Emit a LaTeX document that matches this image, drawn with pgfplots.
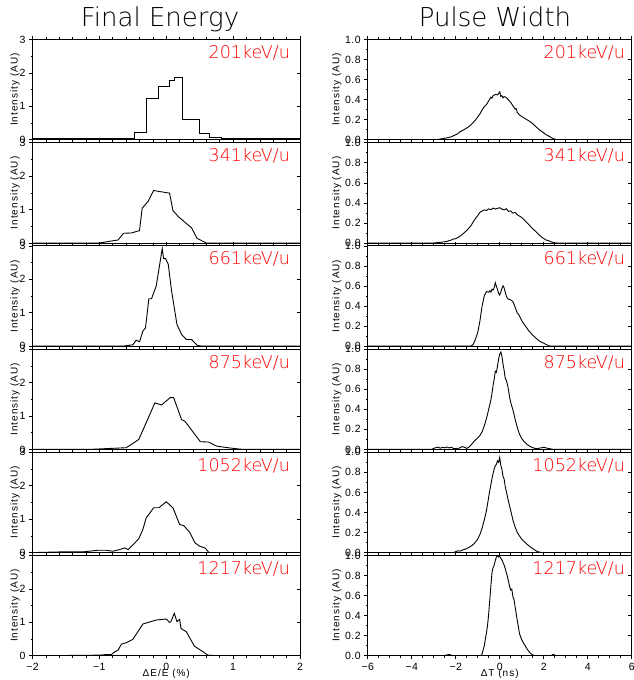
\documentclass[border=0pt]{standalone}
\usepackage{fontspec}
\setmainfont{Liberation Sans}
\newfontfamily\titlefont{DejaVu Sans ExtraLight}
\newfontfamily\numfont[LetterSpace=4]{Liberation Sans}
\newfontfamily\labfont[LetterSpace=10]{Liberation Sans}
\usepackage{pgfplots}
\pgfplotsset{compat=1.18}

\newcommand{\tickfont}{\numfont\fontsize{10.5}{12}\selectfont}
\newcommand{\axlabfont}{\labfont\fontsize{10}{12}\selectfont}
\newcommand{\energyfont}{\titlefont\fontsize{17.5}{19}\selectfont}

\tikzset{
  data/.style={black, line width=0.9pt},
  tag/.style={anchor=north east, text=red, font=\energyfont, inner sep=0pt},
}
\pgfplotsset{
  panel/.style={
    scale only axis, anchor=south west, height=100.3pt,
    axis line style={line width=0.8pt},
    every tick/.style={black, line width=0.6pt},
    tick align=outside, major tick length=3.5pt, minor tick length=2pt,
    xtick pos=both, ytick pos=left,
    xticklabels={}, tick label style={font=\tickfont},
    ylabel={Intensity (AU)}, ylabel style={font=\axlabfont},
  },
  energy/.style={panel, width=267.5pt,
    xmin=-2, xmax=2, ymin=0, ymax=3,
    xtick={-2,-1,0,1,2}, minor x tick num=4,
    ytick={0,1,2,3}, minor y tick num=1, yticklabels={0,1,2,3},
    ylabel style={at={(axis description cs:-0.0654,0.5)}, anchor=center},
  },
  pulse/.style={panel, width=264pt,
    xmin=-6, xmax=6, ymin=0, ymax=1,
    xtick={-6,-4,-2,0,2,4,6}, minor x tick num=3,
    ytick={0,0.2,0.4,0.6,0.8,1}, minor y tick num=1,
    yticklabels={0.0,0.2,0.4,0.6,0.8,1.0},
    ylabel style={at={(axis description cs:-0.1174,0.5)}, anchor=center},
  },
  % inward ticks on the right-hand frame
  rtick/.style={scale only axis, anchor=south west, height=100.3pt,
    hide x axis, axis y line*=right, axis line style={line width=0.8pt},
    every tick/.style={black, line width=0.6pt},
    tick align=inside, major tick length=3.5pt, yticklabels={}},
}
\newcommand{\erticks}[1]{\begin{axis}[rtick, width=267.5pt, xmin=-2, xmax=2, ymin=0, ymax=3, ytick={1,2}, at={#1}]\end{axis}}
\newcommand{\prticks}[1]{\begin{axis}[rtick, width=264pt, xmin=-6, xmax=6, ymin=0, ymax=1, ytick={0.2,0.4,0.6,0.8}, at={#1}]\end{axis}}

\begin{document}
\begin{tikzpicture}
\path[use as bounding box] (0,0) rectangle (634pt,680pt);

\node[font=\titlefont\fontsize{26}{28}\selectfont, anchor=base] at (160pt,653.3pt) {Final Energy};
\node[font=\titlefont\fontsize{26}{28}\selectfont, anchor=base] at (495pt,653.3pt) {Pulse Width};

% ---------------- Final energy spread ----------------
\begin{axis}[energy, at={(32.5pt,540.2pt)}]
\addplot[data, const plot] coordinates {
(-2.0,0.03) (-0.65,0.05) (-0.47,0.22) (-0.30,1.25) (-0.12,1.60) (0.05,1.78)
(0.13,1.87) (0.24,0.60) (0.49,0.20) (0.65,0.08) (0.83,0.04) (1.70,0.05) (1.95,0.04) (2.0,0.04)};
\node[tag] at (rel axis cs:0.963,0.945) {201keV/u};
\end{axis}
\erticks{(32.5pt,540.2pt)}

\begin{axis}[energy, at={(32.5pt,437.0pt)}]
\addplot[data] coordinates {
(-2.0,0) (-1.0,0) (-0.85,0.05) (-0.72,0.09) (-0.64,0.29) (-0.52,0.30) (-0.40,0.37)
(-0.36,1.04) (-0.27,1.25) (-0.19,1.57) (0.05,1.49) (0.10,0.97) (0.18,0.79)
(0.25,0.67) (0.38,0.45) (0.46,0.14) (0.55,0.05) (0.60,0) (2.0,0)};
\node[tag] at (rel axis cs:0.963,0.945) {341keV/u};
\end{axis}
\erticks{(32.5pt,437.0pt)}

\begin{axis}[energy, at={(32.5pt,333.8pt)}]
\addplot[data] coordinates {
(-2.0,0) (-0.65,0) (-0.55,0.03) (-0.50,0.04) (-0.45,0.18) (-0.40,0.13) (-0.35,0.45)
(-0.31,0.55) (-0.26,1.42) (-0.22,1.42) (-0.15,1.80) (-0.06,2.92) (-0.04,2.62)
(-0.01,2.62) (0.03,2.45) (0.08,1.65) (0.16,0.65) (0.23,0.35) (0.30,0.20)
(0.38,0.20) (0.46,0.03) (0.53,0) (2.0,0)};
\node[tag] at (rel axis cs:0.963,0.945) {661keV/u};
\end{axis}
\erticks{(32.5pt,333.8pt)}

\begin{axis}[energy, at={(32.5pt,230.6pt)}]
\addplot[data] coordinates {
(-2.0,0) (-1.15,0) (-0.60,0.05) (-0.52,0.15) (-0.41,0.30) (-0.17,1.39) (-0.07,1.33)
(0.06,1.55) (0.11,1.55) (0.23,0.89) (0.28,0.84) (0.51,0.23) (0.63,0.22)
(0.75,0.10) (0.85,0.07) (1.00,0.03) (1.15,0) (2.0,0)};
\node[tag] at (rel axis cs:0.963,0.945) {875keV/u};
\end{axis}
\erticks{(32.5pt,230.6pt)}

\begin{axis}[energy, at={(32.5pt,127.4pt)}]
\addplot[data] coordinates {
(-2.0,0) (-1.6,0.02) (-1.25,0.02) (-1.02,0.07) (-0.90,0.07) (-0.80,0.04) (-0.70,0.09)
(-0.62,0.14) (-0.57,0.09) (-0.47,0.29) (-0.41,0.42) (-0.35,0.69) (-0.30,1.04)
(-0.26,1.14) (-0.19,1.34) (-0.11,1.34) (0.00,1.52) (0.10,1.34) (0.20,0.84)
(0.26,0.81) (0.35,0.61) (0.43,0.29) (0.50,0.19) (0.58,0.14) (0.64,0) (2.0,0)};
\node[tag] at (rel axis cs:0.963,0.945) {1052keV/u};
\end{axis}
\erticks{(32.5pt,127.4pt)}

\begin{axis}[energy, at={(32.5pt,24.2pt)},
  xticklabels={−2,−1,0,1,2},
  xlabel={ΔE/E (\%)},
  xlabel style={font=\axlabfont, at={(axis description cs:0.5,-0.177)}, anchor=center}]
\addplot[data] coordinates {
(-2.0,0) (-1.49,0.01) (-0.99,0.02) (-0.89,0.04) (-0.82,0.04) (-0.77,0.12)
(-0.72,0.17) (-0.67,0.35) (-0.60,0.39) (-0.50,0.49) (-0.35,0.95) (-0.30,0.98)
(-0.15,1.07) (0.00,1.10) (0.05,1.00) (0.07,1.02) (0.12,1.27) (0.16,1.02)
(0.20,1.09) (0.22,0.82) (0.30,0.72) (0.42,0.29) (0.55,0.12) (0.62,0.02)
(0.79,0) (2.0,0)};
\node[tag] at (rel axis cs:0.963,0.945) {1217keV/u};
\end{axis}
\erticks{(32.5pt,24.2pt)}

% ---------------- Bunch length ----------------
\begin{axis}[pulse, at={(367.7pt,540.2pt)}]
\addplot[data] coordinates {
(-6,0) (-3.0,0.000) (-2.9,0.002) (-2.8,0.004) (-2.7,0.008) (-2.6,0.012) (-2.5,0.015)
(-2.4,0.019) (-2.3,0.024) (-2.2,0.030) (-2.1,0.041) (-2.0,0.050) (-1.9,0.062)
(-1.8,0.080) (-1.7,0.092) (-1.6,0.104) (-1.5,0.118) (-1.4,0.131) (-1.3,0.150)
(-1.2,0.172) (-1.1,0.198) (-1.0,0.228) (-0.9,0.258) (-0.8,0.297) (-0.7,0.330)
(-0.6,0.352) (-0.5,0.388) (-0.4,0.425) (-0.35,0.415) (-0.3,0.440) (-0.2,0.452)
(-0.1,0.448) (-0.05,0.462) (0.0,0.478) (0.05,0.432) (0.1,0.440) (0.15,0.418)
(0.2,0.432) (0.3,0.420) (0.4,0.398) (0.5,0.372) (0.6,0.340) (0.7,0.305)
(0.75,0.312) (0.8,0.270) (0.85,0.262) (0.9,0.248) (1.0,0.232) (1.1,0.220)
(1.2,0.205) (1.3,0.192) (1.4,0.178) (1.5,0.160) (1.6,0.140) (1.7,0.120)
(1.8,0.100) (1.9,0.085) (2.0,0.068) (2.1,0.052) (2.2,0.040) (2.3,0.028)
(2.4,0.015) (2.5,0.007) (2.6,0.000) (6,0)};
\node[tag] at (rel axis cs:0.975,0.945) {201keV/u};
\end{axis}
\prticks{(367.7pt,540.2pt)}

\begin{axis}[pulse, at={(367.7pt,437.0pt)}]
\addplot[data] coordinates {
(-6,0) (-3.0,0.000) (-2.8,0.004) (-2.6,0.009) (-2.4,0.016) (-2.2,0.030) (-2.1,0.040)
(-2.0,0.042) (-1.9,0.055) (-1.8,0.068) (-1.7,0.085) (-1.6,0.105) (-1.5,0.125)
(-1.4,0.148) (-1.3,0.175) (-1.2,0.212) (-1.1,0.245) (-1.0,0.272) (-0.9,0.305)
(-0.8,0.318) (-0.7,0.330) (-0.6,0.325) (-0.5,0.340) (-0.4,0.332) (-0.3,0.348)
(-0.2,0.338) (-0.1,0.345) (0.0,0.352) (0.1,0.338) (0.2,0.330) (0.3,0.342)
(0.4,0.315) (0.5,0.320) (0.6,0.298) (0.7,0.305) (0.8,0.282) (0.9,0.268)
(1.0,0.255) (1.1,0.232) (1.2,0.210) (1.3,0.190) (1.4,0.165) (1.5,0.142)
(1.6,0.122) (1.7,0.100) (1.8,0.078) (1.9,0.060) (2.0,0.045) (2.1,0.030)
(2.2,0.025) (2.3,0.015) (2.4,0.008) (2.5,0.003) (2.6,0.000) (6,0)};
\node[tag] at (rel axis cs:0.975,0.945) {341keV/u};
\end{axis}
\prticks{(367.7pt,437.0pt)}

\begin{axis}[pulse, at={(367.7pt,333.8pt)}]
\addplot[data] coordinates {
(-6,0) (-1.3,0.000) (-1.2,0.020) (-1.1,0.070) (-1.0,0.135) (-0.9,0.250) (-0.8,0.400)
(-0.7,0.505) (-0.6,0.545) (-0.5,0.538) (-0.45,0.552) (-0.4,0.540) (-0.35,0.568)
(-0.3,0.560) (-0.25,0.585) (-0.2,0.632) (-0.15,0.598) (-0.1,0.565) (-0.05,0.528)
(0.0,0.510) (0.05,0.540) (0.1,0.575) (0.15,0.602) (0.2,0.582) (0.25,0.540)
(0.3,0.500) (0.35,0.478) (0.4,0.468) (0.5,0.462) (0.6,0.445) (0.7,0.390)
(0.8,0.330) (0.85,0.318) (0.9,0.300) (1.0,0.255) (1.1,0.222) (1.2,0.192)
(1.3,0.160) (1.4,0.135) (1.5,0.110) (1.6,0.090) (1.7,0.070) (1.8,0.052)
(1.9,0.040) (2.0,0.030) (2.1,0.018) (2.2,0.008) (2.3,0.000) (6,0)};
\node[tag] at (rel axis cs:0.975,0.945) {661keV/u};
\end{axis}
\prticks{(367.7pt,333.8pt)}

\begin{axis}[pulse, at={(367.7pt,230.6pt)}]
\addplot[data] coordinates {
(-6,0) (-3.1,0.000) (-3.0,0.010) (-2.9,0.018) (-2.8,0.022) (-2.7,0.012) (-2.6,0.020)
(-2.5,0.016) (-2.4,0.024) (-2.3,0.015) (-2.2,0.020) (-2.1,0.010) (-2.0,0.008)
(-1.9,0.006) (-1.8,0.018) (-1.7,0.028) (-1.6,0.020) (-1.5,0.010) (-1.4,0.022)
(-1.3,0.045) (-1.2,0.070) (-1.1,0.095) (-1.0,0.115) (-0.9,0.138) (-0.8,0.175)
(-0.7,0.235) (-0.6,0.310) (-0.5,0.400) (-0.4,0.495) (-0.35,0.560) (-0.3,0.640)
(-0.25,0.700) (-0.2,0.780) (-0.15,0.770) (-0.1,0.830) (-0.05,0.900) (0.0,0.950)
(0.05,0.972) (0.1,0.930) (0.15,0.850) (0.2,0.790) (0.25,0.710) (0.3,0.690)
(0.35,0.650) (0.4,0.590) (0.45,0.520) (0.5,0.470) (0.55,0.430) (0.6,0.395)
(0.65,0.350) (0.7,0.300) (0.8,0.220) (0.9,0.150) (1.0,0.110) (1.1,0.080)
(1.2,0.060) (1.3,0.040) (1.4,0.028) (1.5,0.018) (1.6,0.010) (1.7,0.008)
(1.8,0.012) (1.9,0.016) (2.0,0.022) (2.1,0.015) (2.2,0.010) (2.3,0.006)
(2.4,0.002) (2.5,0.000) (6,0)};
\node[tag] at (rel axis cs:0.975,0.945) {875keV/u};
\end{axis}
\prticks{(367.7pt,230.6pt)}

\begin{axis}[pulse, at={(367.7pt,127.4pt)}]
\addplot[data] coordinates {
(-6,0) (-2.1,0.000) (-2.0,0.010) (-1.9,0.018) (-1.8,0.015) (-1.7,0.025) (-1.6,0.032)
(-1.5,0.040) (-1.4,0.052) (-1.3,0.065) (-1.2,0.082) (-1.1,0.105) (-1.0,0.135)
(-0.9,0.180) (-0.8,0.245) (-0.7,0.325) (-0.6,0.420) (-0.5,0.555) (-0.45,0.620)
(-0.4,0.680) (-0.35,0.740) (-0.3,0.790) (-0.25,0.835) (-0.2,0.865) (-0.15,0.880)
(-0.1,0.915) (-0.05,0.900) (0.0,0.948) (0.05,0.870) (0.1,0.835) (0.15,0.760)
(0.2,0.735) (0.25,0.660) (0.3,0.610) (0.35,0.560) (0.4,0.510) (0.5,0.420)
(0.6,0.325) (0.7,0.255) (0.8,0.200) (0.9,0.165) (1.0,0.135) (1.1,0.112)
(1.2,0.092) (1.3,0.072) (1.4,0.055) (1.5,0.040) (1.6,0.025) (1.7,0.012)
(1.8,0.005) (1.9,0.000) (6,0)};
\node[tag] at (rel axis cs:0.975,0.945) {1052keV/u};
\end{axis}
\prticks{(367.7pt,127.4pt)}

\begin{axis}[pulse, at={(367.7pt,24.2pt)},
  xticklabels={−6,−4,−2,0,2,4,6},
  xlabel={ΔT (ns)},
  xlabel style={font=\axlabfont, at={(axis description cs:0.5,-0.177)}, anchor=center}]
\addplot[data] coordinates {
(-6,0) (-2.6,0.000) (-2.4,0.008) (-2.3,0.014) (-2.2,0.006) (-2.1,0.000) (-0.85,0.000)
(-0.8,0.020) (-0.75,0.060) (-0.7,0.100) (-0.65,0.170) (-0.6,0.230) (-0.55,0.310)
(-0.5,0.420) (-0.45,0.560) (-0.4,0.700) (-0.35,0.830) (-0.3,0.880) (-0.25,0.905)
(-0.2,0.950) (-0.15,0.985) (-0.1,1.000) (-0.05,0.985) (0.0,0.990) (0.05,0.975)
(0.1,0.955) (0.15,0.930) (0.2,0.905) (0.25,0.870) (0.3,0.830) (0.35,0.790)
(0.4,0.740) (0.45,0.690) (0.5,0.655) (0.55,0.665) (0.6,0.590) (0.65,0.560)
(0.7,0.490) (0.75,0.420) (0.8,0.350) (0.85,0.290) (0.9,0.220) (0.95,0.190)
(1.0,0.160) (1.1,0.120) (1.2,0.085) (1.3,0.050) (1.4,0.025) (1.5,0.010)
(1.6,0.000) (2.3,0.000) (2.4,0.010) (2.45,0.014) (2.5,0.006) (2.6,0.000) (6,0)};
\node[tag] at (rel axis cs:0.975,0.945) {1217keV/u};
\end{axis}
\prticks{(367.7pt,24.2pt)}

\end{tikzpicture}
\end{document}
